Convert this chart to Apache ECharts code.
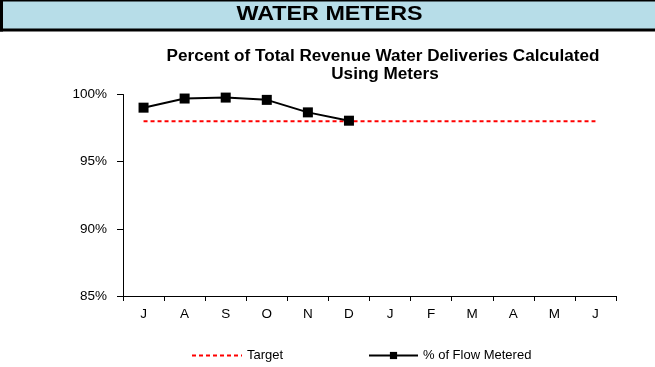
<!DOCTYPE html>
<html>
<head>
<meta charset="utf-8">
<script src="https://cdn.jsdelivr.net/npm/echarts@6/dist/echarts.min.js"></script>
<style>
  html, body { margin: 0; padding: 0; background: #ffffff; }
  #chart { width: 655px; height: 367px; }
</style>
</head>
<body>
<div id="chart"></div>
<script>
// Month labels for the fiscal year (July through June)
const months = ['J', 'A', 'S', 'O', 'N', 'D', 'J', 'F', 'M', 'A', 'M', 'J'];
// Share of revenue water deliveries calculated using meters (%)
const flowMetered = [99.02, 99.7, 99.77, 99.6, 98.67, 98.05, null, null, null, null, null, null];
// Target level (%)
const target = [98, 98, 98, 98, 98, 98, 98, 98, 98, 98, 98, 98];
// Y axis ticks
const yTicks = [85, 90, 95, 100];

const chart = echarts.init(document.getElementById('chart'), null, { renderer: 'canvas' });
const font = 'Liberation Sans, Arial, sans-serif';

chart.setOption({
  animation: false,
  backgroundColor: '#ffffff',
  graphic: [
    // Banner
    { type: 'rect', shape: { x: 0, y: 0, width: 655, height: 30 }, style: { fill: '#b7dde8' }, silent: true },
    { type: 'rect', shape: { x: 0, y: 0, width: 655, height: 1.5 }, style: { fill: '#000' }, silent: true },
    { type: 'rect', shape: { x: 0, y: 28.5, width: 655, height: 3 }, style: { fill: '#000' }, silent: true },
    { type: 'rect', shape: { x: 0, y: 0, width: 3, height: 31.5 }, style: { fill: '#000' }, silent: true },
    {
      type: 'text', x: 329.5, y: 14.5, scaleX: 1.11, silent: true,
      style: { text: 'WATER METERS', x: 0, y: 0, align: 'center', verticalAlign: 'middle',
               font: 'bold 21px ' + font, fill: '#000' }
    },
    // Chart title
    {
      type: 'text', x: 383, y: 57, scaleX: 1.07, silent: true,
      style: { text: 'Percent of Total Revenue Water Deliveries Calculated', x: 0, y: 0,
               align: 'center', verticalAlign: 'middle', font: 'bold 16px ' + font, fill: '#000' }
    },
    {
      type: 'text', x: 385, y: 75, scaleX: 1.07, silent: true,
      style: { text: 'Using Meters', x: 0, y: 0,
               align: 'center', verticalAlign: 'middle', font: 'bold 16px ' + font, fill: '#000' }
    }
  ],
  legend: [
    {
      data: [{
        name: 'Target',
        itemStyle: { color: 'rgba(0,0,0,0)', borderWidth: 0 },
        lineStyle: { color: '#ff0000', width: 2, type: [4, 3] }
      }],
      left: 186, top: 344, itemWidth: 50, itemHeight: 9, itemGap: 5,
      textStyle: { fontFamily: font, fontSize: 13, color: '#000' }
    },
    {
      data: ['% of Flow Metered'], left: 363, top: 344, itemWidth: 49, itemHeight: 9, itemGap: 5,
      textStyle: { fontFamily: font, fontSize: 13, color: '#000' }
    }
  ],
  grid: { left: 123, right: 39, top: 94.5, bottom: 71, containLabel: false },
  xAxis: {
    type: 'category',
    data: months,
    boundaryGap: true,
    axisLine: { show: true, lineStyle: { color: '#000', width: 1 } },
    axisTick: { show: true, alignWithLabel: false, inside: false, length: 5, lineStyle: { color: '#000' } },
    axisLabel: { fontFamily: font, fontSize: 13.5, color: '#000', margin: 11 },
    splitLine: { show: false }
  },
  yAxis: {
    type: 'value',
    min: yTicks[0], max: yTicks[yTicks.length - 1], interval: 5,
    axisLine: { show: true, lineStyle: { color: '#000', width: 1 } },
    axisTick: { show: true, length: 6, lineStyle: { color: '#000' } },
    axisLabel: { fontFamily: font, fontSize: 13.5, color: '#000', margin: 16, formatter: v => v + '%' },
    splitLine: { show: false }
  },
  series: [
    {
      name: 'Target', type: 'line', data: target, symbol: 'none',
      lineStyle: { color: '#ff0000', width: 2, type: [4, 3] },
      itemStyle: { color: '#ff0000' }, z: 2
    },
    {
      name: '% of Flow Metered', type: 'line', data: flowMetered,
      symbol: 'rect', symbolSize: 10, connectNulls: false,
      lineStyle: { color: '#000', width: 2 },
      itemStyle: { color: '#000' }, z: 3
    }
  ]
});
</script>
</body>
</html>
